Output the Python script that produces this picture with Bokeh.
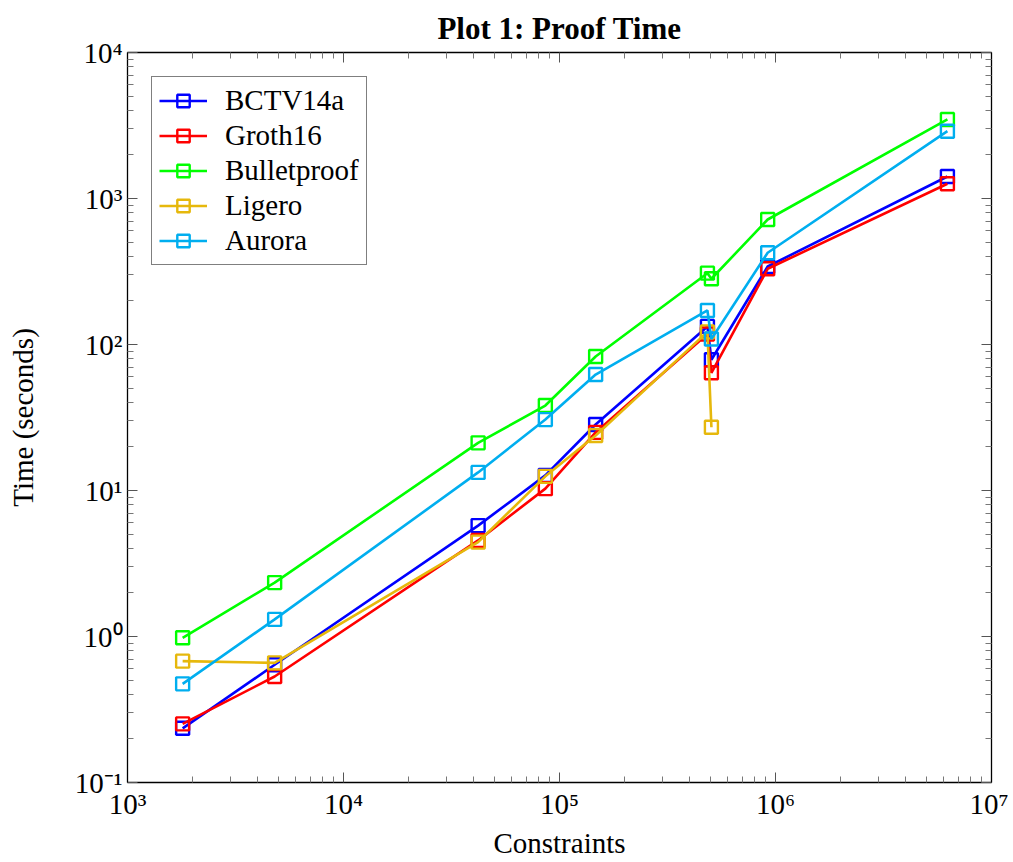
from bokeh.plotting import figure
from bokeh.models import (FixedTicker, LogAxis, Legend, LegendItem, Range1d, Title)
from bokeh.embed import file_html
from bokeh.resources import INLINE

# ---- data ----
constraints = [1.8e3, 4.8e3, 4.2e4, 8.6e4, 1.47e5, 4.84e5, 5.05e5, 9.2e5, 6.25e6]
bctv14a = [0.235, 0.64, 5.75, 12.7, 28.3, 133, 78.6, 342, 1415]
groth16 = [0.252, 0.532, 4.55, 10.3, 25.0, 118, 64.0, 330, 1262]
bulletproof = [0.98, 2.34, 21.2, 38.2, 82.8, 308, 282, 718, 3478]
ligero_constraints = [1.8e3, 4.8e3, 4.2e4, 8.6e4, 1.47e5, 4.84e5, 5.05e5]
ligero = [0.678, 0.66, 4.43, 12.5, 23.8, 122, 27.1]
aurora = [0.474, 1.31, 13.3, 30.6, 62.3, 171, 109, 425, 2891]

series_names = ["BCTV14a", "Groth16", "Bulletproof", "Ligero", "Aurora"]
series_colors = ["#0000ff", "#ff0000", "#00ff00", "#e6b80c", "#00aeef"]

x_tick_exps = [3, 4, 5, 6, 7]
y_tick_exps = [-1, 0, 1, 2, 3, 4]

title_text = "Plot 1: Proof Time"
x_label = "Constraints"
y_label = "Time (seconds)"

FONT = "Liberation Serif"
FS = "29px"

SUP = str.maketrans("-0123456789", "⁻⁰¹²³⁴⁵⁶⁷⁸⁹")


def sup_label(e):
    return "10" + str(e).translate(SUP)


def ticks_for(exps):
    major = [10.0 ** e for e in exps]
    minor = []
    for e in exps[:-1]:
        for m in range(2, 10):
            minor.append(m * 10.0 ** e)
    return major, minor


p = figure(width=1008, height=862, x_axis_type="log", y_axis_type="log",
           x_range=Range1d(1e3, 1e7), y_range=Range1d(0.1, 1e4),
           output_backend="svg", toolbar_location=None,
           min_border_left=127, min_border_right=17,
           min_border_top=52, min_border_bottom=80)
p.background_fill_color = "white"
p.border_fill_color = "white"
p.outline_line_color = "black"
p.outline_line_width = 1.3
p.xgrid.visible = False
p.ygrid.visible = False

xmaj, xmin = ticks_for(x_tick_exps)
ymaj, ymin = ticks_for(y_tick_exps)

# title
p.title = Title(text=title_text, align="center",
                text_font=FONT, text_font_size="31px", text_font_style="bold",
                text_color="black", standoff=14)


def style_axis(ax, major, minor, exps, show_labels):
    ax.ticker = FixedTicker(ticks=major, minor_ticks=minor)
    ax.major_tick_in = 10
    ax.major_tick_out = 0
    ax.minor_tick_in = 6
    ax.minor_tick_out = 0
    ax.major_tick_line_color = "#555555"
    ax.minor_tick_line_color = "#777777"
    ax.axis_line_color = "black"
    ax.major_label_text_font = FONT
    if show_labels:
        ax.major_label_overrides = {10.0 ** e: sup_label(e) for e in exps}
        ax.major_label_text_font_size = FS
        ax.major_label_text_color = "black"
    else:
        ax.major_label_text_color = None
        ax.major_label_text_font_size = "1px"
        ax.major_label_standoff = 0


style_axis(p.xaxis[0], xmaj, xmin, x_tick_exps, True)
style_axis(p.yaxis[0], ymaj, ymin, y_tick_exps, True)
p.xaxis[0].major_label_standoff = 5
p.yaxis[0].major_label_standoff = 5
p.xaxis[0].axis_label = x_label
p.yaxis[0].axis_label = y_label
for ax in (p.xaxis[0], p.yaxis[0]):
    ax.axis_label_text_font = FONT
    ax.axis_label_text_font_size = FS
    ax.axis_label_text_font_style = "normal"
    ax.axis_label_text_color = "black"
p.xaxis[0].axis_label_standoff = 4
p.yaxis[0].axis_label_standoff = 33

top_ax = LogAxis()
right_ax = LogAxis()
style_axis(top_ax, xmaj, xmin, x_tick_exps, False)
style_axis(right_ax, ymaj, ymin, y_tick_exps, False)
p.add_layout(top_ax, "above")
p.add_layout(right_ax, "right")

xs_list = [constraints, constraints, constraints, ligero_constraints, constraints]
ys_list = [bctv14a, groth16, bulletproof, ligero, aurora]

items = []
for name, color, xs, ys in zip(series_names, series_colors, xs_list, ys_list):
    lr = p.line(xs, ys, line_color=color, line_width=2.6)
    sr = p.scatter(xs, ys, marker="square", size=13, fill_color=None,
                   line_color=color, line_width=2.4)
    items.append(LegendItem(label=name, renderers=[lr, sr]))

legend = Legend(items=items, location="top_left",
                label_text_font=FONT, label_text_font_size=FS,
                label_text_color="black",
                border_line_color="black", border_line_width=1.3,
                background_fill_alpha=1.0,
                glyph_width=48, glyph_height=31, label_height=31,
                spacing=2, padding=7, margin=24, label_standoff=18)
p.add_layout(legend, "center")

open("out.html", "w").write(file_html(p, INLINE))
